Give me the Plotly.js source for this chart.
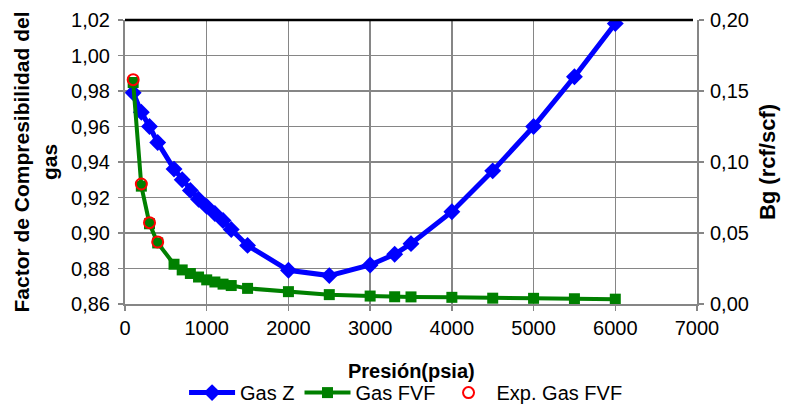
<!DOCTYPE html>
<html>
<head>
<meta charset="utf-8">
<script src="https://cdn.plot.ly/plotly-3.0.1.min.js"></script>
<style>
  html, body { margin: 0; padding: 0; background: #ffffff; }
  #chart { width: 790px; height: 406px; }
</style>
</head>
<body>
<div id="chart"></div>
<script>
// Pressure steps (psia)
const pressure = [100, 200, 300, 400, 600, 700, 800, 900, 1000, 1100, 1200, 1300,
                  1500, 2000, 2500, 3000, 3300, 3500, 4000, 4500, 5000, 5500, 6000];
// Gas compressibility factor Z
const gasZ = [0.979, 0.968, 0.960, 0.951, 0.936, 0.930, 0.924, 0.919, 0.915, 0.911, 0.907, 0.902,
              0.893, 0.879, 0.876, 0.882, 0.888, 0.894, 0.912, 0.935, 0.960, 0.988, 1.018];
// Gas formation volume factor Bg (rcf/scf)
const gasFVF = [0.156, 0.083, 0.0565, 0.043, 0.028, 0.024, 0.0215, 0.019, 0.017, 0.0155, 0.014, 0.013,
                0.011, 0.0087, 0.0066, 0.0056, 0.0051, 0.0050, 0.0047, 0.0041, 0.0040, 0.0037, 0.0034];
// Experimental Bg points
const expPressure = [100, 200, 300, 400];
const expGasFVF = [0.158, 0.0845, 0.0573, 0.0437];

const font = "'Liberation Sans', Arial, sans-serif";
const grey = '#868686';

const traces = [
  {
    x: pressure, y: gasZ, name: 'Gas Z', type: 'scatter', mode: 'lines+markers',
    yaxis: 'y',
    line: { color: '#0000ff', width: 5 },
    marker: { symbol: 'diamond', size: 13, color: '#0000ff' }
  },
  {
    x: pressure, y: gasFVF, name: 'Gas FVF', type: 'scatter', mode: 'lines+markers',
    yaxis: 'y2',
    line: { color: '#008000', width: 4 },
    marker: { symbol: 'square', size: 11, color: '#008000' }
  },
  {
    x: expPressure, y: expGasFVF, name: 'Exp. Gas FVF', type: 'scatter', mode: 'markers',
    yaxis: 'y2',
    marker: { symbol: 'circle-open', size: 11, color: '#ff0000', line: { width: 2, color: '#ff0000' } }
  }
];

const layout = {
  width: 790, height: 406,
  margin: { l: 125, r: 93, t: 20, b: 102 },
  paper_bgcolor: '#ffffff', plot_bgcolor: '#ffffff',
  separators: ',.',
  font: { family: font, size: 20, color: '#000000' },
  showlegend: true,
  legend: {
    orientation: 'h', xref: 'container', yref: 'container',
    x: 0.514, xanchor: 'center', y: 0.033, yanchor: 'middle',
    font: { family: font, size: 20, color: '#000000' },
    bgcolor: 'rgba(0,0,0,0)', itemwidth: 46, tracegroupgap: 0
  },
  xaxis: {
    range: [0, 7000], dtick: 1000, tick0: 0,
    showgrid: true, gridcolor: grey, gridwidth: 1.5,
    showline: true, linecolor: grey, linewidth: 2,
    ticks: 'outside', ticklen: 5, tickcolor: grey, tickwidth: 1.5,
    tickfont: { family: font, size: 20 },
    zeroline: false,
    automargin: false
  },
  yaxis: {
    range: [0.86, 1.02], dtick: 0.02, tick0: 0.86, tickformat: '.2f',
    showgrid: true, gridcolor: grey, gridwidth: 1.5,
    showline: true, linecolor: grey, linewidth: 2,
    ticks: 'outside', ticklen: 5, tickcolor: grey, tickwidth: 1.5,
    ticklabelstandoff: 4,
    tickfont: { family: font, size: 20 },
    zeroline: false,
    title: { text: '<b>Factor de Compresibilidad del<br>gas</b>', font: { family: font, size: 21 }, standoff: 8 },
    automargin: false
  },
  yaxis2: {
    overlaying: 'y', side: 'right',
    range: [0, 0.20], dtick: 0.05, tick0: 0, tickformat: '.2f',
    showgrid: false,
    showline: true, linecolor: grey, linewidth: 2,
    ticks: 'outside', ticklen: 5, tickcolor: grey, tickwidth: 1.5,
    ticklabelstandoff: 2,
    tickfont: { family: font, size: 20 },
    zeroline: false,
    title: { text: '<b>Bg (rcf/scf)</b>', font: { family: font, size: 22 }, standoff: 12 },
    automargin: false
  },
  annotations: [
    // x-axis title placed below the tick labels
    { text: '<b>Presión(psia)</b>', xref: 'paper', yref: 'paper', x: 0.5, y: -0.236,
      xanchor: 'center', yanchor: 'middle', showarrow: false,
      font: { family: font, size: 20, color: '#000000' } }
  ],
  shapes: [
    { type: 'line', xref: 'paper', yref: 'paper', x0: 0, x1: 0.993, y0: 1, y1: 1,
      line: { color: '#000000', width: 2.5 } }
  ]
};

Plotly.newPlot('chart', traces, layout, { displayModeBar: false, staticPlot: true });
</script>
</body>
</html>
